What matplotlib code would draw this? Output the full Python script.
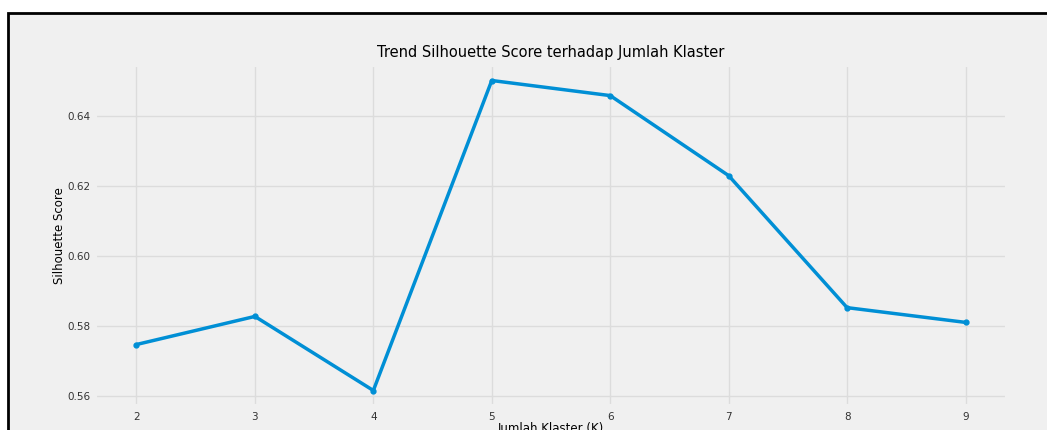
import matplotlib
matplotlib.use("Agg")
from matplotlib import pyplot as plt
from matplotlib.patches import Rectangle

# data
k_values = [2, 3, 4, 5, 6, 7, 8, 9]
silhouette = [0.5748, 0.5828, 0.5617, 0.6500, 0.6457, 0.6229, 0.5853, 0.5811]
y_ticks = [0.56, 0.58, 0.60, 0.62, 0.64]

plt.style.use("fivethirtyeight")

fig = plt.figure(figsize=(10.47, 4.30), dpi=100)
fig.patch.set_facecolor("white")

# screenshot frame: black border top/left, cut off on right and bottom
W, H = 1047, 430
fig.patches.append(Rectangle((8 / W, -0.1), 1.2, (H - 13) / H + 0.1,
                             transform=fig.transFigure, facecolor="#f0f0f0",
                             edgecolor="black", linewidth=2, zorder=-1))

ax = fig.add_axes([95 / W, (H - 406) / H, (1007 - 95) / W, (406 - 65) / H])
ax.set_facecolor("#f0f0f0")
ax.plot(k_values, silhouette, marker="o", markersize=3.5, linewidth=2.5, color="#008fd5")
ax.set_yticks(y_ticks)
ax.set_yticklabels(["%.2f" % v for v in y_ticks])
ax.tick_params(labelsize=7.5, colors="#333333")
ax.tick_params(axis="x", pad=4)
ax.grid(True, color="#dcdcdc", linewidth=1)
ax.set_title("Trend Silhouette Score terhadap Jumlah Klaster", fontsize=10.5, pad=6)
ax.set_xlabel("Jumlah Klaster (K)", fontsize=8.5, labelpad=0)
ax.set_ylabel("Silhouette Score", fontsize=8.5, labelpad=1)

fig.savefig("out.png", dpi=100, facecolor=fig.get_facecolor())
